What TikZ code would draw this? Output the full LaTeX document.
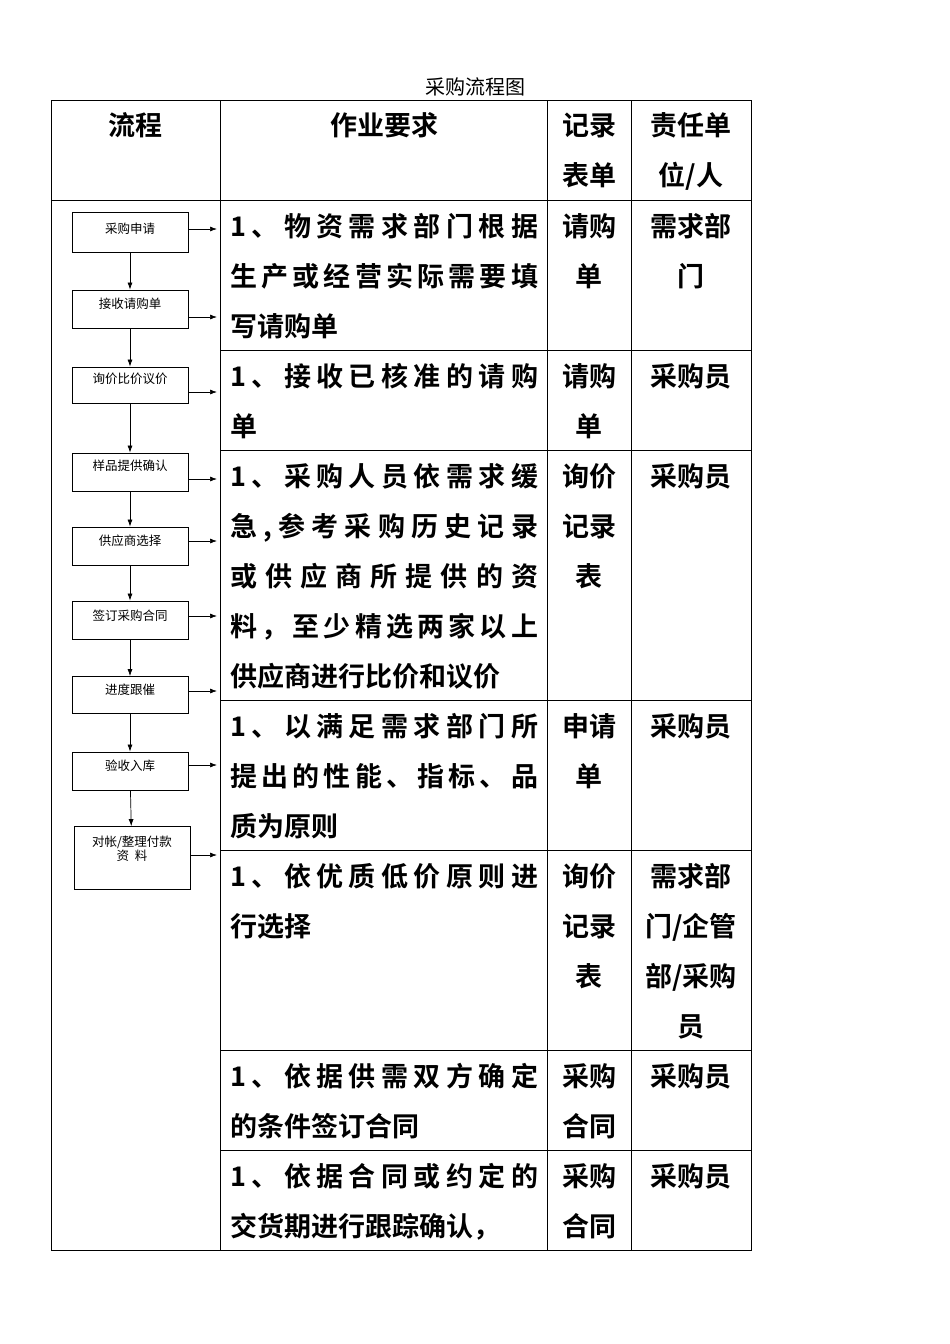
\documentclass[tikz,border=0pt]{standalone}
\usepackage{fontspec}
\setmainfont{Liberation Serif}
\newfontfamily\cjk{Noto Sans CJK SC}
\newfontfamily\cjkb{Noto Sans CJK SC Bold}
\XeTeXinterchartokenstate=1
\XeTeXinterchartoks 0 0 = {\hskip0pt plus 1fil}
\usetikzlibrary{arrows.meta}
\tikzset{
  cell/.style={font=\cjkb\fontsize{27}{27}\selectfont, inner sep=0pt},
  fbox/.style={draw, line width=0.8pt, minimum width=116pt, inner sep=0pt},
  flab/.style={font=\cjk\fontsize{12.5}{14}\selectfont, inner sep=0pt, align=center},
  arr/.style={-{Latex[length=7pt,width=5pt]}, line width=0.7pt},
  grid/.style={line width=0.8pt}
}
\newcommand{\JL}[4]{\node[cell,anchor=base west] (#1) at (#2) {\makebox[308pt][s]{#3#4}};}
\newcommand{\NL}[3]{\node[cell,anchor=base west] (#1) at (#2) {#3};}
\newcommand{\CL}[3]{\node[cell,anchor=base] (#1) at (#2) {#3};}
\begin{document}
\begin{tikzpicture}[x=1pt,y=-1pt]
\useasboundingbox[fill=white] (0,0) rectangle (950,1344);
\node[font=\cjk\fontsize{20}{20}\selectfont] (title) at (475,87) {采购流程图};
% grid
\draw[grid] (51,100) rectangle (751,1250);
\foreach \x in {220,547,631} \draw[grid] (\x,100) -- (\x,1250);
\draw[grid] (51,200) -- (751,200);
\foreach \y in {350,450,700,850,1050,1150} \draw[grid] (220,\y) -- (751,\y);
% headers
\CL{h1}{135,135}{流程}
\CL{h2}{384,135}{作业要求}
\CL{h3a}{589,135}{记录}
\CL{h3b}{589,185}{表单}
\CL{h4a}{691,135}{责任单}
\CL{h4b}{691,185}{位/人}
% row 1
\JL{r1a}{230,236}{1、物资需求部门根据}{}
\JL{r1b}{230,286}{生产或经营实际需要填}{}
\NL{r1c}{230,336}{写请购单}
\CL{r1d}{589,236}{请购}\CL{r1e}{589,286}{单}
\CL{r1f}{691,236}{需求部}\CL{r1g}{691,286}{门}
% row 2
\JL{r2a}{230,386}{1、接收已核准的请购}{}
\NL{r2b}{230,436}{单}
\CL{r2c}{589,386}{请购}\CL{r2d}{589,436}{单}
\CL{r2e}{691,386}{采购员}
% row 3
\JL{r3a}{230,486}{1、采购人员依需求缓}{}
\JL{r3b}{230,536}{急,参考采购历史记录}{}
\JL{r3c}{230,586}{或供应商所提供的资}{}
\JL{r3d}{230,636}{料，至少精选两家以上}{}
\NL{r3e}{230,686}{供应商进行比价和议价}
\CL{r3f}{589,486}{询价}\CL{r3g}{589,536}{记录}\CL{r3h}{589,586}{表}
\CL{r3i}{691,486}{采购员}
% row 4
\JL{r4a}{230,736}{1、以满足需求部门所}{}
\JL{r4b}{230,786}{提出的性能、指标、品}{}
\NL{r4c}{230,836}{质为原则}
\CL{r4d}{589,736}{申请}\CL{r4e}{589,786}{单}
\CL{r4f}{691,736}{采购员}
% row 5
\JL{r5a}{230,886}{1、依优质低价原则进}{}
\NL{r5b}{230,936}{行选择}
\CL{r5c}{589,886}{询价}\CL{r5d}{589,936}{记录}\CL{r5e}{589,986}{表}
\CL{r5f}{691,886}{需求部}\CL{r5g}{691,936}{门/企管}\CL{r5h}{691,986}{部/采购}\CL{r5i}{691,1036}{员}
% row 6
\JL{r6a}{230,1086}{1、依据供需双方确定}{}
\NL{r6b}{230,1136}{的条件签订合同}
\CL{r6c}{589,1086}{采购}\CL{r6d}{589,1136}{合同}
\CL{r6e}{691,1086}{采购员}
% row 7
\JL{r7a}{230,1186}{1、依据合同或约定的}{}
\NL{r7b}{230,1236}{交货期进行跟踪确认，}
\CL{r7c}{589,1186}{采购}\CL{r7d}{589,1236}{合同}
\CL{r7e}{691,1186}{采购员}
% flow boxes
\node[fbox,minimum height=40pt] (b1) at (130,232) {};
\node[fbox,minimum height=38pt] (b2) at (130,309) {};
\node[fbox,minimum height=36pt] (b3) at (130,385) {};
\node[fbox,minimum height=38pt] (b4) at (130,472) {};
\node[fbox,minimum height=38pt] (b5) at (130,546) {};
\node[fbox,minimum height=38pt] (b6) at (130,620) {};
\node[fbox,minimum height=37pt] (b7) at (130,695) {};
\node[fbox,minimum height=38pt] (b8) at (130,771) {};
\node[fbox,minimum height=63pt] (b9) at (132,858) {};
\node[flab] (t1) at (130,229) {采购申请};
\node[flab] (t2) at (130,304) {接收请购单};
\node[flab] (t3) at (130,379) {询价比价议价};
\node[flab] (t4) at (130,466) {样品提供确认};
\node[flab] (t5) at (130,541) {供应商选择};
\node[flab] (t6) at (130,616) {签订采购合同};
\node[flab] (t7) at (130,690) {进度跟催};
\node[flab] (t8) at (130,766) {验收入库};
\node[flab] (t9) at (132,849) {对帐/整理付款\\资\ \ 料};
\draw[arr] (b1) -- (b2);
\draw[arr] (b2) -- (b3);
\draw[arr] (b3) -- (b4);
\draw[arr] (b4) -- (b5);
\draw[arr] (b5) -- (b6);
\draw[arr] (b6) -- (b7);
\draw[arr] (b7) -- (b8);
\draw[arr] (b8) -- (b9);
\foreach \i/\y in {1/229,2/317,3/392,4/479,5/541,6/616,7/691,8/765,9/855}
  \draw[arr] (b\i.east |- 0,\y) -- (217,\y);
\end{tikzpicture}
\end{document}
